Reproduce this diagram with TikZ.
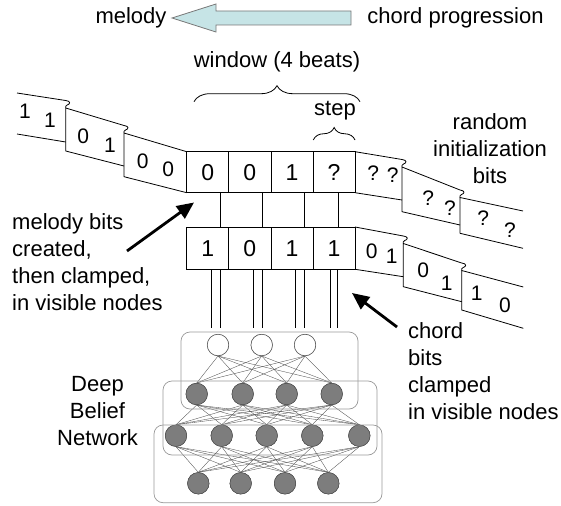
\documentclass[tikz,border=0pt]{standalone}
\usepackage{fontspec}
\setmainfont{Liberation Sans}
\usetikzlibrary{arrows.meta,decorations.pathreplacing}
\definecolor{arrowfill}{RGB}{198,228,230}
\definecolor{arrowline}{RGB}{120,120,120}
\definecolor{unitfill}{RGB}{125,125,125}
\definecolor{unitline}{RGB}{80,80,80}
\begin{document}
\begin{tikzpicture}[x=1pt,y=-1pt,
  lbl/.style={font=\fontsize{22}{27}\selectfont, inner sep=0pt},
  cell/.style={draw, line width=0.8pt, inner sep=0pt, minimum width=42.1pt, font=\fontsize{23}{26}\selectfont},
  bit/.style={inner sep=0pt, font=\fontsize{21}{24}\selectfont},
  tape/.style={line width=0.8pt, line join=round},
  wire/.style={line width=0.7pt},
  unit/.style={circle, draw=unitline, fill=unitfill, minimum size=21.5pt, inner sep=0pt, line width=0.5pt},
  vis/.style={circle, draw=unitline, fill=white, minimum size=21.5pt, inner sep=0pt, line width=0.5pt},
  syn/.style={unitline, line width=0.35pt},
  layerbox/.style={draw=gray!80, rounded corners=9pt, line width=0.7pt},
  pointer/.style={line width=2.8pt, -{Triangle[length=17pt,width=15pt]}},
  bracestyle/.style={decorate, line width=0.8pt}
]
\useasboundingbox (0,0) rectangle (561,505);

% header
\node[lbl] (mel) at (131,18) {melody};
\node[lbl] (chp) at (455.5,18) {chord progression};
\draw[fill=arrowfill, draw=arrowline, line width=0.8pt]
  (172,18) -- (216,4) -- (216,11) -- (351,11) -- (351,25) -- (216,25) -- (216,32) -- cycle;

\node[lbl] (win) at (277,61.7) {window (4 beats)};
\draw[bracestyle, decoration={brace, amplitude=16pt}] (194,101.7) -- (360,101.7);
\node[lbl] (stp) at (335,111) {step};
\draw[bracestyle, decoration={brace, amplitude=12.5pt}] (313.3,140) -- (355,140);

% tape: top strip
\draw[tape] (17,93) -- (65.7,100.5) .. controls (70.7,101) and (70.7,104) .. (67.2,105) .. controls (65.2,106) and (65.7,106.5) .. (65.7,108);
\draw[tape] (17,134) -- (65.7,142);
\draw[tape] (124,166) -- (65.7,151) -- (65.7,108) -- (124,125.5) .. controls (129,126) and (129,129) .. (125.5,130) .. controls (123.5,131) and (124,131.5) .. (124,133);
\draw[tape] (186.7,192.7) -- (124,176.7) -- (124,133) -- (186.7,151.7);
\draw[tape] (402,200) -- (355.1,192.7);
\draw[tape] (355.1,151.7) -- (402,159.5) .. controls (407,160) and (407,163) .. (403.5,164) .. controls (401.5,165) and (402,165.5) .. (402,167);
\draw[tape] (460,225) -- (402,211.7) -- (402,167) -- (460,190) .. controls (465,190.5) and (465,193.5) .. (461.5,194.5) .. controls (459.5,195.5) and (460,196) .. (460,197.5);
\draw[tape] (523,248.3) -- (460,233.3) -- (460,197.5) -- (523,211);

% tape: bottom strip
\draw[tape] (403.3,276.7) -- (355.1,269.3);
\draw[tape] (355.1,227) -- (403.3,236) .. controls (408.3,236.5) and (408.3,239.5) .. (404.8,240.5) .. controls (402.8,241.5) and (403.3,242) .. (403.3,243.5);
\draw[tape] (461.7,301.7) -- (403.3,286.7) -- (403.3,243.5) -- (461.7,263) .. controls (466.7,263.5) and (466.7,266.5) .. (463.2,267.5) .. controls (461.2,268.5) and (461.7,269) .. (461.7,270.5);
\draw[tape] (523.3,328.3) -- (461.7,310) -- (461.7,270.5) -- (523.3,287);

% bits on the strips
\node[bit] (a1) at (25,111.7) {1};
\node[bit] (a2) at (50,120) {1};
\node[bit] (b1) at (83.3,136) {0};
\node[bit] (b2) at (110,145) {1};
\node[bit] (c1) at (142.7,161.7) {0};
\node[bit] (c2) at (168.3,169.3) {0};
\node[bit] (d1) at (373.3,172.7) {?};
\node[bit] (d2) at (392.7,175) {?};
\node[bit] (e1) at (428.3,198.3) {?};
\node[bit] (e2) at (450,208.3) {?};
\node[bit] (f1) at (483.3,218.3) {?};
\node[bit] (f2) at (510,230) {?};
\node[bit] (g1) at (371.7,251.7) {0};
\node[bit] (g2) at (391.7,256.7) {1};
\node[bit] (h1) at (423.3,270) {0};
\node[bit] (h2) at (446.7,283.3) {1};
\node[bit] (i1) at (476.7,293.3) {1};
\node[bit] (i2) at (505,305) {0};

% window cells
\node[cell, minimum height=41pt] (t1) at (207.75,172.2) {0};
\node[cell, minimum height=41pt] (t2) at (249.85,172.2) {0};
\node[cell, minimum height=41pt] (t3) at (291.95,172.2) {1};
\node[cell, minimum height=41pt] (t4) at (334.05,172.2) {?};
\node[cell, minimum height=34.3pt, minimum width=42pt] (m1) at (241,209.85) {};
\node[cell, minimum height=34.3pt, minimum width=42pt] (m2) at (283,209.85) {};
\node[cell, minimum height=34.3pt, minimum width=34pt] (m3) at (321,209.85) {};
\node[cell, minimum height=42.3pt] (u1) at (207.75,248.15) {1};
\node[cell, minimum height=42.3pt] (u2) at (249.85,248.15) {0};
\node[cell, minimum height=42.3pt] (u3) at (291.95,248.15) {1};
\node[cell, minimum height=42.3pt] (u4) at (334.05,248.15) {1};

% wires down to the network
\foreach \x [count=\i] in {211,220,253,262,295.7,304,330,337.7}{
  \coordinate (wa\i) at (\x,269.3);
  \coordinate (wb\i) at (\x,328);
  \draw[wire] (wa\i) -- (wb\i);
}

% network nodes
\node[vis] (n11) at (218,345) {};
\node[vis] (n12) at (261.7,345) {};
\node[vis] (n13) at (305,345) {};
\node[unit] (n21) at (196.7,394) {};
\node[unit] (n22) at (242.7,394) {};
\node[unit] (n23) at (286.7,394) {};
\node[unit] (n24) at (331.7,394) {};
\node[unit] (n31) at (176,435.7) {};
\node[unit] (n32) at (221.7,435.7) {};
\node[unit] (n33) at (266.7,435.7) {};
\node[unit] (n34) at (312.3,435.7) {};
\node[unit] (n35) at (359.3,435.7) {};
\node[unit] (n41) at (198.3,483.3) {};
\node[unit] (n42) at (240.7,483.3) {};
\node[unit] (n43) at (285,483.3) {};
\node[unit] (n44) at (328.3,483.3) {};

\foreach \a in {1,2,3}{\foreach \b in {1,2,3,4}{\draw[syn] (n1\a.south) -- (n2\b.north);}}
\foreach \a in {1,2,3,4}{\foreach \b in {1,2,3,4,5}{\draw[syn] (n2\a.south) -- (n3\b.north);}}
\foreach \a in {1,2,3,4,5}{\foreach \b in {1,2,3,4}{\draw[syn] (n3\a.south) -- (n4\b.north);}}

% redraw nodes over the edges
\foreach \n in {11,12,13}{\node[vis] at (n\n) {};}
\foreach \n in {21,22,23,24,31,32,33,34,35,41,42,43,44}{\node[unit] at (n\n) {};}

% layer boxes
\node[layerbox, minimum width=177pt, minimum height=77pt, inner sep=0pt] (box1) at (269.5,370.5) {};
\node[layerbox, minimum width=214pt, minimum height=74pt, inner sep=0pt] (box2) at (270,418) {};
\node[layerbox, minimum width=228pt, minimum height=77.7pt, inner sep=0pt] (box3) at (268,463.85) {};

% labels
\node[lbl, align=center] (rnd) at (490,148.5) {random\\initialization\\bits};
\node[lbl, align=left, anchor=west] (mbt) at (12,262) {melody bits\\created,\\then clamped,\\in visible nodes};
\node[lbl, align=left, anchor=west] (cbt) at (408,371.5) {chord\\bits\\clamped\\in visible nodes};
\node[lbl, align=center] (dbn) at (97.5,411) {Deep\\Belief\\Network};

% pointers
\coordinate (mtail) at (127,251);
\coordinate (mtip) at (194,202.5);
\draw[pointer] (mtail) -- (mtip);
\coordinate (ctail) at (397,327);
\coordinate (ctip) at (352,293);
\draw[pointer] (ctail) -- (ctip);
\end{tikzpicture}
\end{document}
